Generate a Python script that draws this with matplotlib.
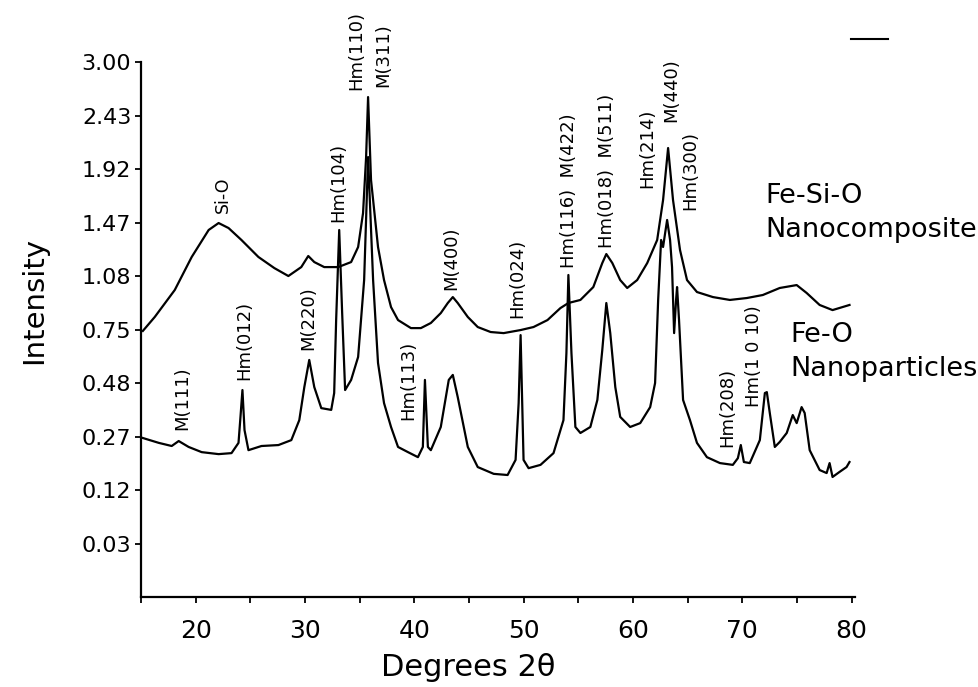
"""
XRD patterns: Fe-Si-O nanocomposite vs Fe-O nanoparticles (sqrt intensity axis).
"""

import numpy as np
import matplotlib
matplotlib.use('Agg')
import matplotlib.pyplot as plt
from matplotlib.lines import Line2D

# --- data ---
# Fe-Si-O nanocomposite (upper trace)
fesio_2theta = [15.17, 16.26, 18.09, 19.64, 21.19, 22.10, 23.01, 24.19, 25.74, 27.20,
                28.48, 29.66, 30.30, 30.85, 31.76, 33.04, 34.22, 34.86, 35.31, 35.59,
                35.77, 36.04, 36.68, 37.23, 37.87, 38.51, 39.69, 40.60, 41.51, 42.42,
                43.06, 43.52, 43.97, 44.89, 45.80, 46.98, 48.17, 49.72, 50.90, 52.18,
                53.36, 54.09, 55.19, 56.37, 57.19, 57.56, 58.11, 58.83, 59.47, 60.38,
                61.30, 62.21, 62.75, 63.21, 63.66, 64.30, 64.94, 65.85, 67.31, 68.86,
                70.41, 71.87, 73.42, 74.97, 75.88, 77.07, 78.25, 79.80]
fesio_int = [0.742, 0.822, 0.988, 1.212, 1.412, 1.466, 1.427, 1.336, 1.212, 1.134,
             1.080, 1.141, 1.219, 1.176, 1.141, 1.141, 1.176, 1.284, 1.545, 2.029,
             2.620, 1.823, 1.284, 1.053, 0.881, 0.804, 0.758, 0.758, 0.787, 0.845,
             0.906, 0.943, 0.906, 0.822, 0.764, 0.736, 0.730, 0.747, 0.764, 0.804,
             0.875, 0.906, 0.925, 1.007, 1.169, 1.233, 1.169, 1.053, 1.001, 1.053,
             1.169, 1.336, 1.652, 2.113, 1.652, 1.262, 1.053, 0.975, 0.943, 0.925,
             0.937, 0.956, 1.001, 1.020, 0.969, 0.894, 0.863, 0.894]

# Fe-O nanoparticles (lower trace)
feo_2theta = [15.17, 16.63, 17.81, 18.45, 19.36, 20.55, 22.10, 23.28, 23.92, 24.10,
              24.28, 24.47, 24.83, 26.02, 27.57, 28.75, 29.48, 29.94, 30.39, 30.85,
              31.49, 32.40, 32.67, 32.85, 33.13, 33.40, 33.67, 34.22, 34.86, 35.41,
              35.77, 36.23, 36.68, 37.23, 37.87, 38.51, 39.42, 40.33, 40.78, 40.97,
              41.24, 41.51, 42.42, 43.15, 43.52, 43.97, 44.89, 45.80, 47.26, 48.53,
              49.26, 49.54, 49.72, 49.99, 50.45, 51.54, 52.73, 53.64, 53.91, 54.09,
              54.37, 54.73, 55.19, 56.10, 56.74, 57.19, 57.56, 57.92, 58.38, 58.83,
              59.74, 60.66, 61.57, 62.02, 62.30, 62.57, 62.75, 62.94, 63.12, 63.39,
              63.57, 63.76, 63.94, 64.03, 64.21, 64.58, 65.21, 65.85, 66.76, 67.95,
              69.13, 69.59, 69.86, 70.14, 70.68, 71.60, 72.06, 72.24, 72.51, 72.97,
              73.42, 74.06, 74.61, 74.97, 75.42, 75.70, 76.16, 77.07, 77.71, 77.98,
              78.25, 78.89, 79.53, 79.80]
feo_int = [0.265, 0.249, 0.239, 0.255, 0.236, 0.220, 0.214, 0.217, 0.249, 0.340,
           0.449, 0.292, 0.226, 0.239, 0.242, 0.258, 0.328, 0.462, 0.589, 0.462,
           0.374, 0.367, 0.436, 0.804, 1.412, 0.845, 0.449, 0.494, 0.604, 1.053,
           2.029, 1.053, 0.574, 0.394, 0.303, 0.236, 0.220, 0.205, 0.236, 0.494,
           0.236, 0.226, 0.303, 0.494, 0.517, 0.419, 0.236, 0.177, 0.159, 0.156,
           0.197, 0.394, 0.719, 0.197, 0.174, 0.183, 0.217, 0.328, 0.624, 1.087,
           0.624, 0.303, 0.282, 0.303, 0.407, 0.639, 0.906, 0.730, 0.462, 0.340,
           0.303, 0.317, 0.378, 0.480, 0.925, 1.336, 1.284, 1.389, 1.490, 1.336,
           1.141, 0.730, 0.925, 1.007, 0.804, 0.407, 0.328, 0.249, 0.205, 0.188,
           0.183, 0.202, 0.242, 0.191, 0.188, 0.258, 0.436, 0.440, 0.355, 0.236,
           0.252, 0.282, 0.347, 0.317, 0.378, 0.355, 0.226, 0.169, 0.161, 0.188,
           0.151, 0.164, 0.177, 0.191]

y_ticks = [3.00, 2.43, 1.92, 1.47, 1.08, 0.75, 0.48, 0.27, 0.12, 0.03]
x_ticks = [20, 30, 40, 50, 60, 70, 80]

# peak labels: (text, 2theta, intensity at label bottom)
peak_labels = [
    ('Si-O', 22.46, 1.545),
    ('M(111)', 18.81, 0.292),
    ('Hm(012)', 24.47, 0.494),
    ('M(220)', 30.30, 0.639),
    ('Hm(104)', 33.04, 1.474),
    ('Hm(110)', 34.68, 2.694),
    ('M(311)', 37.14, 2.726),
    ('Hm(113)', 39.42, 0.328),
    ('M(400)', 43.34, 0.988),
    ('Hm(024)', 49.44, 0.816),
    ('Hm(116)  M(422)', 54.18, 1.134),
    ('Hm(018)  M(511)', 57.65, 1.277),
    ('Hm(214)', 61.30, 1.753),
    ('M(440)', 63.48, 2.365),
    ('Hm(300)', 65.21, 1.570),
    ('Hm(208)', 68.59, 0.236),
    ('Hm(1 0 10)', 71.05, 0.378),
]

fig = plt.figure(figsize=(9.79, 6.87), dpi=100)
ax = fig.add_axes([0.144, 0.131, 0.7293, 0.7787])

ax.plot(fesio_2theta, fesio_int, color='black', linewidth=1.6)
ax.plot(feo_2theta, feo_int, color='black', linewidth=1.6)

# square-root intensity axis
ax.set_yscale('function', functions=(lambda v: np.sqrt(np.clip(v, 0, None)), np.square))
ax.set_ylim(0, 3.0)
ax.set_xlim(15.2, 80.3)
ax.set_yticks(y_ticks)
ax.set_yticklabels([f'{t:.2f}' for t in y_ticks])
ax.yaxis.set_minor_locator(plt.NullLocator())
ax.set_xticks(x_ticks)
ax.set_xticks([15, 25, 35, 45, 55, 65, 75], minor=True)

for side in ['top', 'right']:
    ax.spines[side].set_visible(False)
for side in ['left', 'bottom']:
    ax.spines[side].set_linewidth(1.6)

ax.tick_params(axis='y', which='both', length=4, width=1.3, labelsize=16, pad=3)
ax.tick_params(axis='x', which='both', length=4, width=1.3, labelsize=18, pad=12)

ax.set_xlabel('Degrees 2θ', fontsize=22)
ax.xaxis.set_label_coords(0.458, -0.105)
ax.set_ylabel('Intensity', fontsize=21)
ax.yaxis.set_label_coords(-0.13, 0.555)

for txt, x, y in peak_labels:
    fs = 12.5 if txt == 'Si-O' else 13
    ax.text(x, y, txt, rotation=90, ha='center', va='bottom', fontsize=fs)

# sample names
fig.text(765 / 979, 1 - 203 / 687, 'Fe-Si-O', fontsize=19.5, va='baseline')
fig.text(765 / 979, 1 - 237 / 687, 'Nanocomposite', fontsize=19.5, va='baseline')
fig.text(790 / 979, 1 - 342 / 687, 'Fe-O', fontsize=19.5, va='baseline')
fig.text(790 / 979, 1 - 376 / 687, 'Nanoparticles', fontsize=19.5, va='baseline')

# stray dash at top right of the original figure
fig.add_artist(Line2D([851 / 979, 888 / 979], [1 - 39 / 687, 1 - 39 / 687],
                      color='black', linewidth=1.5))

plt.savefig('out.png', dpi=100, facecolor='white')
plt.close()
